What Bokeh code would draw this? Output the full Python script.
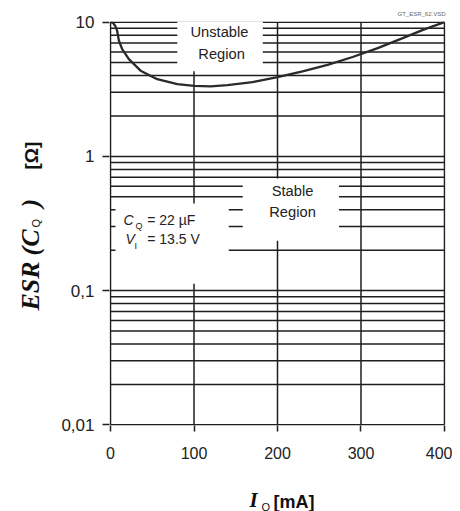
import numpy as np
from bokeh.plotting import figure
from bokeh.layouts import row, column
from bokeh.models import Range1d, FixedTicker, Label
from bokeh.embed import file_html
from bokeh.resources import INLINE

# ---- data ----
iq_ma = [0, 3, 6, 8, 10, 14, 22, 36, 56, 80, 100, 120, 140, 170, 200, 230, 260, 290, 320, 350, 375, 400]
esr_ohm = [10, 9.9, 9.3, 8.6, 7.3, 6.3, 5.3, 4.35, 3.76, 3.45, 3.35, 3.32, 3.4, 3.57, 3.9, 4.3, 4.8, 5.5, 6.4, 7.6, 8.8, 10]

x_ticks = [0, 100, 200, 300, 400]
y_ticks = [0.01, 0.1, 1, 10]
y_tick_labels = ["0,01", "0,1", "1", "10"]

# horizontal grid values (1..9 per decade) and vertical grid values
h_grid = [m * 10.0 ** k for k in (-2, -1, 0) for m in range(1, 10)] + [10.0]
v_grid = [0, 100, 200, 300, 400]

# white text boxes (left, right, bottom, top) in data units
box_left = [80, 158.4, 6]
box_right = [182.4, 273.6, 141.6]
box_bottom = [4.3, 0.2355, 0.1126]
box_top = [12, 0.683, 0.445]

LINE = "#1e1e1e"
TXT = "#222222"
DARK = "#111111"

# ---------------- main chart ----------------
p = figure(width=404, height=465, output_backend="svg", toolbar_location=None,
           x_range=Range1d(-1.2, 401.2),
           y_range=Range1d(10 ** -2.005, 10 ** 1.005), y_axis_type="log",
           min_border_left=61, min_border_right=7, min_border_top=21, min_border_bottom=40)
p.outline_line_color = None
p.xgrid.grid_line_color = None
p.ygrid.grid_line_color = None
p.title.text = "GT_ESR_62.VSD"
p.title.align = "right"
p.title.text_font_size = "6px"
p.title.text_font_style = "normal"
p.title.text_font = "Liberation Sans"
p.title.text_color = "#666666"
p.title.standoff = 9

p.xaxis.ticker = FixedTicker(ticks=x_ticks)
p.yaxis.ticker = FixedTicker(ticks=y_ticks)
p.yaxis.major_label_overrides = {v: s for v, s in zip(y_ticks, y_tick_labels)}
for ax in (p.xaxis, p.yaxis):
    ax.axis_line_color = None
    ax.major_tick_line_color = LINE
    ax.major_tick_line_width = 1.5
    ax.major_tick_in = 0
    ax.minor_tick_line_color = None
    ax.major_label_text_font = "Liberation Sans"
    ax.major_label_text_color = TXT
p.xaxis.major_tick_out = 6
p.yaxis.major_tick_out = 7
p.xaxis.major_label_text_font_size = "16px"
p.yaxis.major_label_text_font_size = "17px"
p.xaxis.major_label_standoff = 15
p.yaxis.major_label_standoff = 8

# grid lines
p.segment(x0=[0] * len(h_grid), x1=[400] * len(h_grid), y0=h_grid, y1=h_grid,
          line_color=LINE, line_width=1.5)
p.segment(x0=v_grid, x1=v_grid, y0=[0.01] * len(v_grid), y1=[10] * len(v_grid),
          line_color=LINE, line_width=1.5)

# white boxes behind the texts
p.quad(left=box_left, right=box_right, bottom=box_bottom, top=box_top,
       fill_color="white", line_color=None)

# ESR limit curve
p.line(iq_ma, esr_ohm, line_color="#2a2a2a", line_width=2.3)


def lab(fig, x, y, text, size, font="Liberation Sans", style="normal", align="left",
        baseline="middle", angle=0, color=TXT):
    fig.add_layout(Label(x=x, y=y, text=text, text_font_size=size, text_font=font,
                         text_font_style=style, text_align=align, text_baseline=baseline,
                         angle=angle, text_color=color))


lab(p, 130.5, 8.52, "Unstable", "14.7px", align="center")
lab(p, 133, 5.84, "Region", "14.7px", align="center")
lab(p, 218, 0.557, "Stable", "14.7px", align="center")
lab(p, 218, 0.382, "Region", "14.7px", align="center")

lab(p, 15.6, 0.3385, "C", "14px", style="italic")
lab(p, 30, 0.3054, "Q", "9px")
lab(p, 44, 0.3385, "= 22 µF", "14px")
lab(p, 18, 0.2423, "V", "14px", style="italic")
lab(p, 28.7, 0.2167, "I", "9px")
lab(p, 44, 0.2423, "= 13.5 V", "14px")


def strip(w, h, x0, x1, y0, y1):
    f = figure(width=w, height=h, output_backend="svg", toolbar_location=None,
               x_axis_location=None, y_axis_location=None,
               x_range=Range1d(x0, x1), y_range=Range1d(y0, y1),
               min_border=0, min_border_left=0, min_border_right=0,
               min_border_top=0, min_border_bottom=0)
    f.grid.visible = False
    f.outline_line_color = None
    return f


SERIF = "Liberation Serif"
rot = np.pi / 2

# ---------------- y-axis title (left strip) ----------------
yt = strip(48, 511, 0, 48, 0, 511)
lab(yt, 30, 201, "ESR", "26px", font=SERIF, style="bold italic", angle=rot, color=DARK)
lab(yt, 30, 256, "(C", "26px", font=SERIF, style="bold italic", angle=rot, color=DARK)
lab(yt, 35, 284, "Q", "11px", angle=rot, color=DARK)
lab(yt, 30, 304, ")", "26px", font=SERIF, style="bold italic", angle=rot, color=DARK)
lab(yt, 31, 342, "[Ω]", "19px", style="bold", angle=rot, color=DARK)

# ---------------- x-axis title (bottom strip; frame aligned with main frame) ----------------
xt = strip(404, 46, 109, 445, 0, 46)
lab(xt, 249, 11.5, "I", "21px", font=SERIF, style="bold italic", color=DARK)
lab(xt, 261, 5, "Q", "11px", color=DARK)
lab(xt, 273, 10, "[mA]", "18px", style="bold", color=DARK)

layout = row(yt, column(p, xt, spacing=0), spacing=0)
open("out.html", "w").write(file_html(layout, INLINE))
